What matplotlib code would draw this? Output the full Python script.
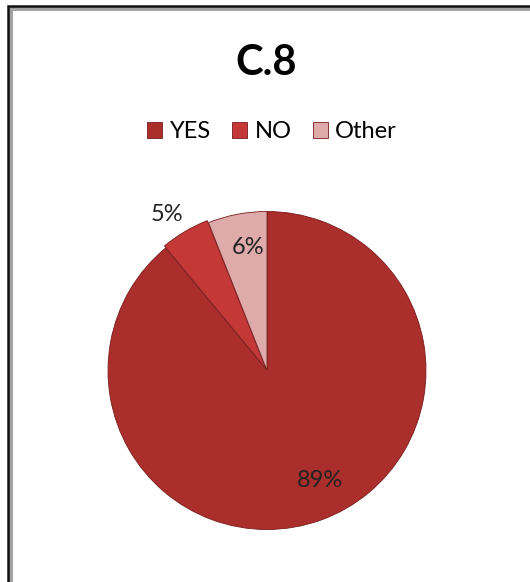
import numpy as np
import matplotlib.pyplot as plt
from matplotlib.patches import Rectangle

labels = ['YES', 'NO', 'Other']
values = [89, 5, 6]
colors = ['#aa2e2c', '#c53838', '#deaaaa']
label_radius = [0.77, 1.15, 0.78]
label_shift = [6, 2, -2]  # degrees, nudges labels along the arc

plt.rcParams['font.family'] = ['Lato', 'DejaVu Sans']

fig = plt.figure(figsize=(5.30, 5.82), dpi=100)

# frame around the chart (runs off the right and bottom edges)
fig.patches.append(Rectangle((10 / 530, -0.1), 1.3, 1 - 8 / 582 + 0.1, transform=fig.transFigure,
                             fill=False, edgecolor='#a0a0a0', linewidth=3.5, zorder=0))
fig.patches.append(Rectangle((8 / 530, -0.1), 1.3, 1 - 6 / 582 + 0.1, transform=fig.transFigure,
                             fill=False, edgecolor='#111111', linewidth=1.8, zorder=1))

r = 159
cx, cy = 267, 370.5
ax = fig.add_axes([(cx - r) / 530, (582 - cy - r) / 582, 2 * r / 530, 2 * r / 582])
wedges, _ = ax.pie(values, colors=colors, startangle=90, counterclock=False,
                   explode=[0, 0.015, 0],
                   wedgeprops=dict(edgecolor='#7a1c1c', linewidth=0.6))
ax.set_xlim(-1, 1)
ax.set_ylim(-1, 1)
ax.set_aspect('equal')

for w, v, rr, sh in zip(wedges, values, label_radius, label_shift):
    ang = np.deg2rad((w.theta1 + w.theta2) / 2 + sh)
    x0, y0 = w.center
    ax.text(x0 + rr * np.cos(ang), y0 + rr * np.sin(ang), f'{v}%',
            ha='center', va='center', fontsize=17, color='#222222')

fig.text(266 / 530, 1 - 63 / 582, 'C.8', ha='center', va='center', fontsize=30, fontweight='bold')

fig.legend(wedges, labels, loc='center', bbox_to_anchor=(272 / 530, 1 - 132 / 582), ncol=3,
           frameon=False, fontsize=17, handlelength=0.65, handleheight=0.65,
           handletextpad=0.3, columnspacing=0.9)

fig.savefig('out.png', dpi=100)
